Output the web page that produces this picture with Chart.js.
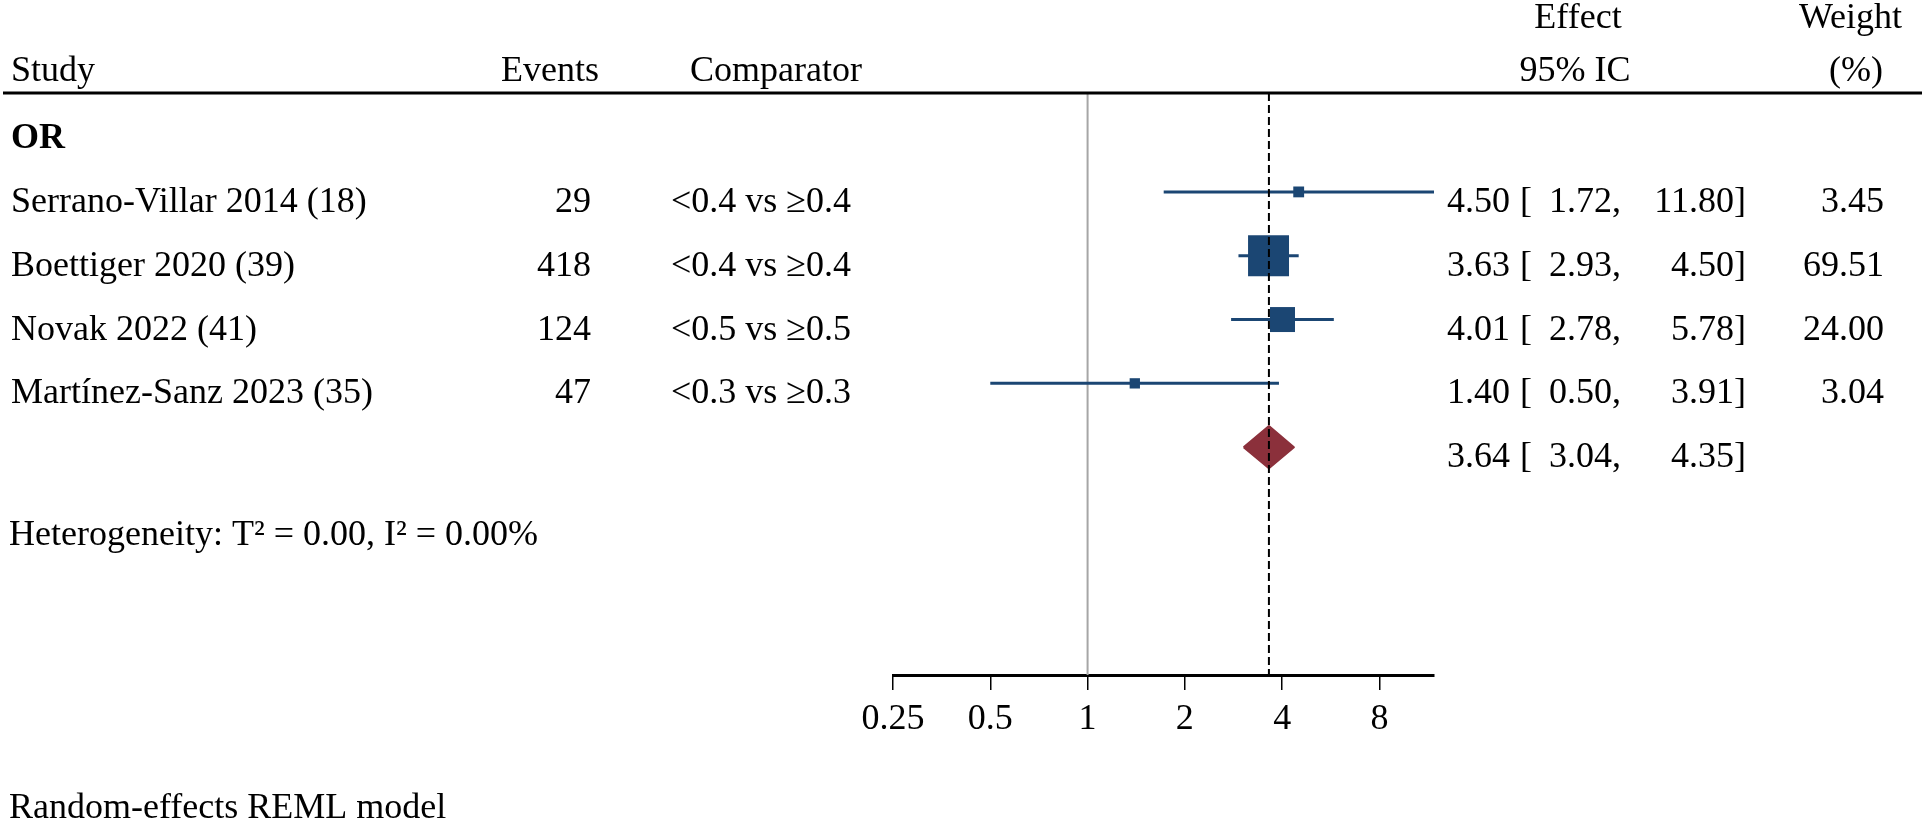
<!DOCTYPE html>
<html>
<head>
<meta charset="utf-8">
<script src="https://cdn.jsdelivr.net/npm/chart.js@4"></script>
<style>
  html, body { margin: 0; padding: 0; background: #fff; }
  #forest { display: block; }
</style>
</head>
<body>
<canvas id="forest" width="1925" height="826"></canvas>
<script>
// data
const groupLabel = "OR";
const studies = ["Serrano-Villar 2014 (18)", "Boettiger 2020 (39)", "Novak 2022 (41)", "Martínez-Sanz 2023 (35)"];
const events = [29, 418, 124, 47];
const comparators = ["<0.4 vs \u22650.4", "<0.4 vs \u22650.4", "<0.5 vs \u22650.5", "<0.3 vs \u22650.3"];
const effects = [4.50, 3.63, 4.01, 1.40];
const ciLow = [1.72, 2.93, 2.78, 0.50];
const ciHigh = [11.80, 4.50, 5.78, 3.91];
const weights = [3.45, 69.51, 24.00, 3.04];
const overall = [3.64, 3.04, 4.35]; // estimate, lower, upper
const nullValue = 1;
const tickValues = [0.25, 0.5, 1, 2, 4, 8];
const tickLabels = ["0.25", "0.5", "1", "2", "4", "8"];
const heterogeneity = "Heterogeneity: T\u00b2 = 0.00, I\u00b2 = 0.00%";
const footNote = "Random-effects REML model";

const FONT = '"Liberation Serif", "Times New Roman", serif';
const BLUE = "#1b4673";
const RED = "#8b303b";
const overallRow = studies.length + 1;

// CI whiskers, one small line dataset per study
const ciSets = studies.map((s, i) => ({
    type: "line",
    data: [{ x: ciLow[i], y: i + 1 }, { x: ciHigh[i], y: i + 1 }],
    borderColor: BLUE,
    borderWidth: 3,
    pointRadius: 0,
    order: 2
}));

// square side grows with sqrt(weight), plus a thin outline like the original
const squareRadius = ctx => (4.65 * Math.sqrt(weights[ctx.dataIndex]) + 2.2) / 2 / Math.SQRT1_2;
const squareSet = {
    type: "scatter",
    data: effects.map((e, i) => ({ x: e, y: i + 1 })),
    pointStyle: "rect",
    backgroundColor: BLUE,
    borderWidth: 0,
    pointRadius: squareRadius,
    pointHoverRadius: squareRadius,
    order: 1
};

const dh = 0.33; // half height of the pooled diamond, in rows
const diamondSet = {
    type: "line",
    data: [
        { x: overall[1], y: overallRow },
        { x: overall[0], y: overallRow - dh },
        { x: overall[2], y: overallRow },
        { x: overall[0], y: overallRow + dh },
        { x: overall[1], y: overallRow }
    ],
    borderColor: RED,
    backgroundColor: RED,
    borderWidth: 2,
    borderJoinStyle: "round",
    fill: "shape",
    pointRadius: 0,
    tension: 0,
    order: 1
};

// vertical reference lines + all table text
const forestText = {
    id: "forestText",
    beforeDatasetsDraw(chart) {
        const { ctx, chartArea, scales } = chart;
        const x1 = scales.x.getPixelForValue(nullValue);
        ctx.save();
        ctx.strokeStyle = "#a6a6a6";
        ctx.lineWidth = 2;
        ctx.beginPath();
        ctx.moveTo(x1, chartArea.top);
        ctx.lineTo(x1, chartArea.bottom);
        ctx.stroke();
        ctx.restore();
    },
    afterDatasetsDraw(chart) {
        const { ctx, chartArea, scales } = chart;
        const xo = scales.x.getPixelForValue(overall[0]);
        ctx.save();
        ctx.strokeStyle = "#000";
        ctx.lineWidth = 2;
        ctx.setLineDash([8, 4]);
        ctx.beginPath();
        ctx.moveTo(xo, chartArea.top);
        ctx.lineTo(xo, chartArea.bottom);
        ctx.stroke();
        ctx.restore();
    },
    afterDraw(chart) {
        const { ctx, chartArea, scales } = chart;
        const y = scales.y;
        const put = (str, x, yy, align, bold) => {
            ctx.font = (bold ? "bold " : "") + "36px " + FONT;
            ctx.textAlign = align;
            ctx.fillText(str, x, yy);
        };
        ctx.save();
        ctx.fillStyle = "#000";
        ctx.textBaseline = "alphabetic";

        // header
        put("Study", 11, 81, "left");
        put("Events", 599, 81, "right");
        put("Comparator", 690, 81, "left");
        put("Effect", 1578, 28, "center");
        put("95% IC", 1575, 81, "center");
        put("Weight", 1902, 28, "right");
        put("(%)", 1883, 81, "right");

        ctx.strokeStyle = "#000";
        ctx.lineWidth = 3;
        ctx.beginPath();
        ctx.moveTo(3, chartArea.top);
        ctx.lineTo(1922, chartArea.top);
        ctx.stroke();

        put(groupLabel, 11, y.getPixelForValue(0) + 20, "left", true);

        studies.forEach((s, i) => {
            const by = y.getPixelForValue(i + 1) + 20;
            put(s, 11, by, "left");
            put(String(events[i]), 591, by, "right");
            put(comparators[i], 671, by, "left");
            put(effects[i].toFixed(2), 1510, by, "right");
            put("[", 1520, by, "left");
            put(ciLow[i].toFixed(2) + ",", 1621, by, "right");
            put(ciHigh[i].toFixed(2) + "]", 1746, by, "right");
            put(weights[i].toFixed(2), 1884, by, "right");
        });

        const oy = y.getPixelForValue(overallRow) + 20;
        put(overall[0].toFixed(2), 1510, oy, "right");
        put("[", 1520, oy, "left");
        put(overall[1].toFixed(2) + ",", 1621, oy, "right");
        put(overall[2].toFixed(2) + "]", 1746, oy, "right");

        put(heterogeneity, 9, 545, "left");
        put(footNote, 9, 818, "left");
        ctx.restore();
    }
};

new Chart(document.getElementById("forest").getContext("2d"), {
    data: { datasets: [...ciSets, squareSet, diamondSet] },
    options: {
        responsive: false,
        animation: false,
        devicePixelRatio: 1,
        layout: { padding: { left: 893, right: 491, top: 93, bottom: 0 } },
        plugins: { legend: { display: false }, tooltip: { enabled: false } },
        scales: {
            x: {
                type: "logarithmic",
                position: "bottom",
                min: tickValues[0],
                max: Math.max(...ciHigh),
                afterBuildTicks: scale => { scale.ticks = tickValues.map(v => ({ value: v })); },
                afterFit: scale => { scale.height = 151; },
                ticks: {
                    autoSkip: false,
                    maxRotation: 0,
                    padding: 8,
                    color: "#000",
                    font: { family: FONT, size: 36 },
                    callback: value => tickLabels[tickValues.indexOf(value)]
                },
                grid: { drawOnChartArea: false, drawTicks: true, tickLength: 15, color: "#000", lineWidth: 1.5 },
                border: { display: true, color: "#000", width: 3 }
            },
            y: {
                type: "linear",
                display: false,
                reverse: true,
                min: -0.55,
                max: 8.57
            }
        }
    },
    plugins: [forestText]
});
</script>
</body>
</html>
